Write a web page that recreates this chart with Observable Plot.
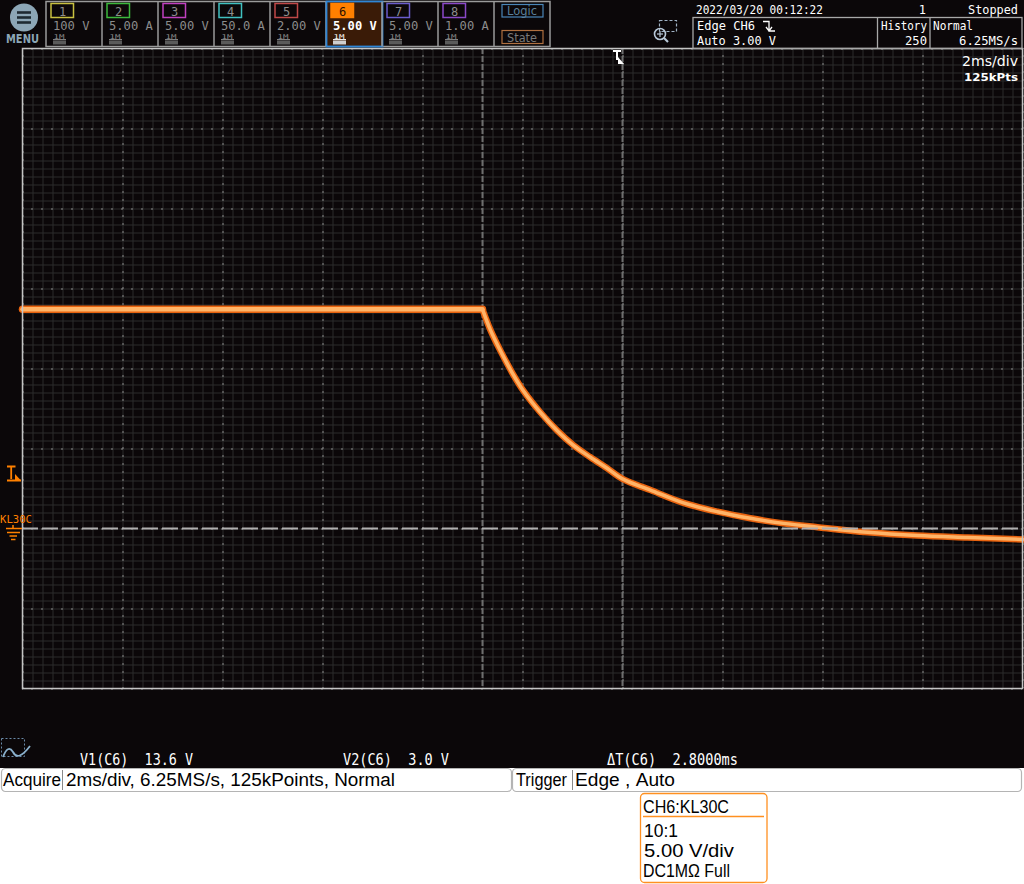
<!DOCTYPE html>
<html><head><meta charset="utf-8">
<script src="https://cdn.jsdelivr.net/npm/d3@7"></script>
<script src="https://cdn.jsdelivr.net/npm/@observablehq/plot@0.6"></script>
<style>
html,body{margin:0;padding:0;background:#fff;}
#wrap{position:relative;width:1024px;height:884px;overflow:hidden;background:#fff;}
#wrap > svg{position:absolute;left:0;top:0;}
</style></head><body><div id="wrap"></div>
<script>
// ---- data (ms relative to trigger, volts on CH6) ----
const timeMs = [-12, -2.8, -2.64, -2.44, -2.2, -1.98, -1.64, -1.3, -0.98, -0.64, -0.3, 0, 0.56, 1.22, 1.9, 2.56, 3.22, 3.9, 4.9, 5.9, 6.9, 8];
const volts  = [13.7, 13.7, 12.4, 11.1, 9.7, 8.6, 7.25, 6.1, 5.2, 4.45, 3.75, 3.1, 2.4, 1.6, 1.05, 0.64, 0.32, 0.08, -0.24, -0.44, -0.56, -0.68];
const cursorTimes = [-2.8, 0];
const groundLevel = [0];
const timeDomain = [-12, 8];
const voltDomain = [-10, 30];
const channelNums = [1, 2, 3, 4, 5, 6, 7, 8];
const channelScales = ["100 V", "5.00 A", "5.00 V", "50.0 A", "2.00 V", "5.00 V", "5.00 V", "1.00 A"];
const channelColors = ["#c8c040", "#3cb83c", "#c040c0", "#40c0c0", "#c04848", "#ff8000", "#6a5ccc", "#8a48c8"];
const activeChannel = 6;

const trace = timeMs.map((t, i) => ({t, v: volts[i]}));
const flat = trace.filter(d => d.t <= cursorTimes[0]);
const decay = trace.filter(d => d.t >= cursorTimes[0]);
const minorX = d3.range(-12, 8.0001, 0.2);
const minorY = d3.range(-10, 30.0001, 0.5);
const majorX = d3.range(-12, 8.0001, 2);
const majorY = d3.range(-10, 30.0001, 5);

const chart = Plot.plot({
  width: 1024, height: 768,
  marginLeft: 22, marginRight: 2, marginTop: 48, marginBottom: 80,
  x: {domain: timeDomain, axis: null},
  y: {domain: voltDomain, axis: null},
  style: {background: "#0b0709"},
  marks: [
    Plot.ruleX(minorX, {stroke: "#2d2d2d", strokeWidth: 1, dx: 0.5}),
    Plot.ruleY(minorY, {stroke: "#2d2d2d", strokeWidth: 1, dy: 0.5}),
    Plot.ruleX(majorX, {stroke: "#8a8a8a", strokeWidth: 1, dx: 0.5, strokeDasharray: "2,6", strokeDashoffset: 1}),
    Plot.ruleY(majorY, {stroke: "#8a8a8a", strokeWidth: 1, dy: 0.5, strokeDasharray: "2,8", strokeDashoffset: 1}),
    Plot.ruleX(cursorTimes, {stroke: "#6e6e6e", strokeWidth: 2, strokeDasharray: "6,2"}),
    Plot.line(flat, {x: "t", y: "v", stroke: "#e8620e", strokeWidth: 7.5}),
    Plot.line(decay, {x: "t", y: "v", stroke: "#e8620e", strokeWidth: 6.5, curve: "catmull-rom"}),
    Plot.line(flat, {x: "t", y: "v", stroke: "#ffb468", strokeWidth: 4.5}),
    Plot.line(decay, {x: "t", y: "v", stroke: "#ffb468", strokeWidth: 3.5, curve: "catmull-rom"}),
    Plot.ruleY(groundLevel, {stroke: "#b0b0b0", strokeWidth: 2, strokeDasharray: "16,4"}),
    Plot.frame({stroke: "#c4c4c4", strokeWidth: 1.5})
  ]
});
const wrap = document.getElementById("wrap");
wrap.appendChild(chart);

// ---- overlay: instrument chrome ----
const MONO = "'DejaVu Sans Mono', monospace";
const SANS = "'Liberation Sans Narrow', 'Liberation Sans', Arial, sans-serif";
const ov = d3.create("svg").attr("width", 1024).attr("height", 884);
function T(x, y, s, o = {}) {
  const e = ov.append("text").attr("x", x).attr("y", y).text(s.replace(/ /g, "\u00a0"))
    .attr("font-family", o.ff || MONO).attr("font-size", o.size || 12)
    .attr("fill", o.fill || "#fff").attr("text-anchor", o.anchor || "start")
    .attr("font-weight", o.w || "normal");
  if (o.len) e.attr("textLength", o.len).attr("lengthAdjust", "spacingAndGlyphs");
  return e;
}
function R(x, y, w, h, o = {}) {
  return ov.append("rect").attr("x", x).attr("y", y).attr("width", w).attr("height", h)
    .attr("fill", o.fill || "none").attr("stroke", o.stroke || "none")
    .attr("stroke-width", o.sw || 1).attr("rx", o.rx || 0)
    .attr("stroke-dasharray", o.dash || null);
}
function L(x1, y1, x2, y2, c, w = 1, dash) {
  return ov.append("line").attr("x1", x1).attr("y1", y1).attr("x2", x2).attr("y2", y2)
    .attr("stroke", c).attr("stroke-width", w).attr("stroke-dasharray", dash || null);
}

// MENU
ov.append("circle").attr("cx", 24).attr("cy", 17.5).attr("r", 14).attr("fill", "#8ca6b6");
[12.5, 17.5, 22.5].forEach(y => L(17, y, 31, y, "#1e2a32", 2.6));
T(22.5, 43, "MENU", {ff: "'DejaVu Sans', sans-serif", size: 11.5, w: "bold", fill: "#8ca6b6", anchor: "middle", len: 33});

// channel cells
R(46, 1.5, 504, 45, {stroke: "#9a9a9a", sw: 1.5});
channelNums.forEach((n, i) => {
  const x0 = 46 + i * 56;
  const active = n === activeChannel;
  if (i > 0) L(x0, 1.5, x0, 46.5, "#9a9a9a", 1.5);
  if (active) R(x0 + 0.5, 1.5, 56, 45, {fill: "#3a1b07", stroke: "#2f86d6", sw: 1.8});
  R(x0 + 5, 3.5, 22.5, 14, {stroke: channelColors[i], sw: 1.5, fill: active ? channelColors[i] : "none"});
  T(x0 + 16.5, 15.5, String(n), {size: 12, fill: active ? "#2a1000" : "#8c8c8c", anchor: "middle"});
  const s = channelScales[i];
  T(x0 + 7, 30, s, {size: 12, fill: active ? "#ffffff" : "#8c8c8c", w: active ? "bold" : "normal", len: s.length * 7.3});
  T(x0 + 7.5, 39, "1M", {size: 6.5, fill: active ? "#ffffff" : "#8c8c8c", len: 11});
  L(x0 + 7, 39.6, x0 + 20, 39.6, active ? "#ffffff" : "#8c8c8c", 1);
  R(x0 + 7, 40.5, 13, 4, {fill: active ? "#cfcfcf" : "#5a5a5a"});
});
L(494, 1.5, 494, 46.5, "#9a9a9a", 1.5);
R(502, 4.5, 41, 12.5, {stroke: "#4a86b8", sw: 1.2});
T(507, 15, "Logic", {ff: "'DejaVu Sans', sans-serif", size: 11.5, fill: "#5a7f9a", len: 30});
R(502, 30.5, 41, 13, {stroke: "#b07040", sw: 1.2});
T(507, 41.5, "State", {ff: "'DejaVu Sans', sans-serif", size: 11.5, fill: "#7a7a7a", len: 30});

// zoom icon
R(659.5, 20.5, 17, 11, {stroke: "#9fb2c4", sw: 1.2, dash: "3,2"});
ov.append("circle").attr("cx", 660).attr("cy", 34).attr("r", 5.5).attr("fill", "none").attr("stroke", "#b8c8d8").attr("stroke-width", 1.6);
L(657, 34, 663, 34, "#b8c8d8", 1.2); L(660, 31, 660, 37, "#b8c8d8", 1.2);
L(664, 38, 668, 42, "#b8c8d8", 2.2);

// status / trigger info
T(696, 14, "2022/03/20 00:12:22", {len: 127});
T(926, 14, "1", {anchor: "end"});
T(1018, 14, "Stopped", {anchor: "end", len: 50});
R(693, 17.5, 329, 31, {stroke: "#a8a8a8", sw: 1.3});
L(877.5, 17.5, 877.5, 48, "#a8a8a8", 1.3);
L(930, 17.5, 930, 48, "#a8a8a8", 1.3);
T(697, 30, "Edge CH6", {len: 58});
ov.append("path").attr("d", "M763,21.5 H769 V31 H775 M766,27 L769,31 L772,27").attr("fill", "none").attr("stroke", "#fff").attr("stroke-width", 1.3);
T(697, 45, "Auto 3.00 V", {len: 79});
T(881, 30, "History", {len: 46});
T(927, 45, "250", {anchor: "end", len: 22});
T(933, 30, "Normal", {len: 40});
T(1018, 45, "6.25MS/s", {anchor: "end", len: 59});

// in-graticule labels
T(1018, 66, "2ms/div", {ff: "'DejaVu Sans', sans-serif", size: 14, anchor: "end", len: 56});
T(1018, 81, "125kPts", {ff: "'DejaVu Sans', sans-serif", size: 11, w: "bold", anchor: "end", len: 54});
// trigger position marker
ov.append("path").attr("d", "M613,51 H621 M617,51 V60").attr("stroke", "#fff").attr("stroke-width", 2).attr("fill", "none");
ov.append("path").attr("d", "M618,57 L624,64 L618,64 Z").attr("fill", "#fff");

// left markers
const OR = "#ff8000";
ov.append("path").attr("d", "M7,466.5 H15.5 M11.2,466.5 V479 M7,480.5 H21").attr("stroke", OR).attr("stroke-width", 1.8).attr("fill", "none");
ov.append("path").attr("d", "M15,474 L21,480.5 L15,480.5 Z").attr("fill", OR);
T(0, 523, "KL30C", {size: 11, fill: OR, len: 32});
L(13, 525, 13, 528, OR, 1.5);
L(6, 528.5, 22, 528.5, OR, 1.5);
L(7, 532.5, 20, 532.5, OR, 1.5);
L(9.5, 536, 17, 536, OR, 1.5);
L(11, 539.5, 15.5, 539.5, OR, 1.5);

// bottom-left icon
R(1.5, 738.5, 23, 18, {stroke: "#6a8aa8", sw: 1, dash: "2,2"});
ov.append("path").attr("d", "M3,757 Q8,744 13,752 Q18,762 30,746").attr("fill", "none").attr("stroke", "#8ab0cc").attr("stroke-width", 1.8);

// cursor readouts
T(80, 765, "V1(C6)  13.6 V", {size: 15, len: 113});
T(343, 765, "V2(C6)  3.0 V", {size: 15, len: 106});
T(607, 765, "\u0394T(C6)  2.8000ms", {size: 15, len: 131});

// bottom status bars
R(1.5, 768.5, 510, 23, {fill: "#fff", stroke: "#b4b4b4", sw: 1.2, rx: 4});
L(62.5, 770, 62.5, 790, "#8a8a8a", 1);
T(3, 786, "Acquire", {ff: SANS, size: 18, fill: "#000", len: 58});
T(66, 786, "2ms/div, 6.25MS/s, 125kPoints, Normal", {ff: SANS, size: 18, fill: "#000", len: 329});
R(512.5, 768.5, 509, 23, {fill: "#fff", stroke: "#b4b4b4", sw: 1.2, rx: 4});
L(572.5, 770, 572.5, 790, "#8a8a8a", 1);
T(516, 786, "Trigger", {ff: SANS, size: 18, fill: "#000", len: 51});
T(575, 786, "Edge , Auto", {ff: SANS, size: 18, fill: "#000", len: 100});

// channel info box
R(640.5, 793.5, 126.5, 89, {fill: "#fff", stroke: "#ff9020", sw: 1.3, rx: 4});
T(643, 813, "CH6:KL30C", {ff: SANS, size: 18, fill: "#000", len: 86});
L(643, 816.5, 764, 816.5, "#ff9020", 1.5);
T(644, 837, "10:1", {ff: SANS, size: 18, fill: "#000", len: 34});
T(644, 857, "5.00 V/div", {ff: SANS, size: 18, fill: "#000", len: 90});
T(643, 877, "DC1M\u03A9 Full", {ff: SANS, size: 18, fill: "#000", len: 87});

wrap.appendChild(ov.node());
</script>
</body></html>
